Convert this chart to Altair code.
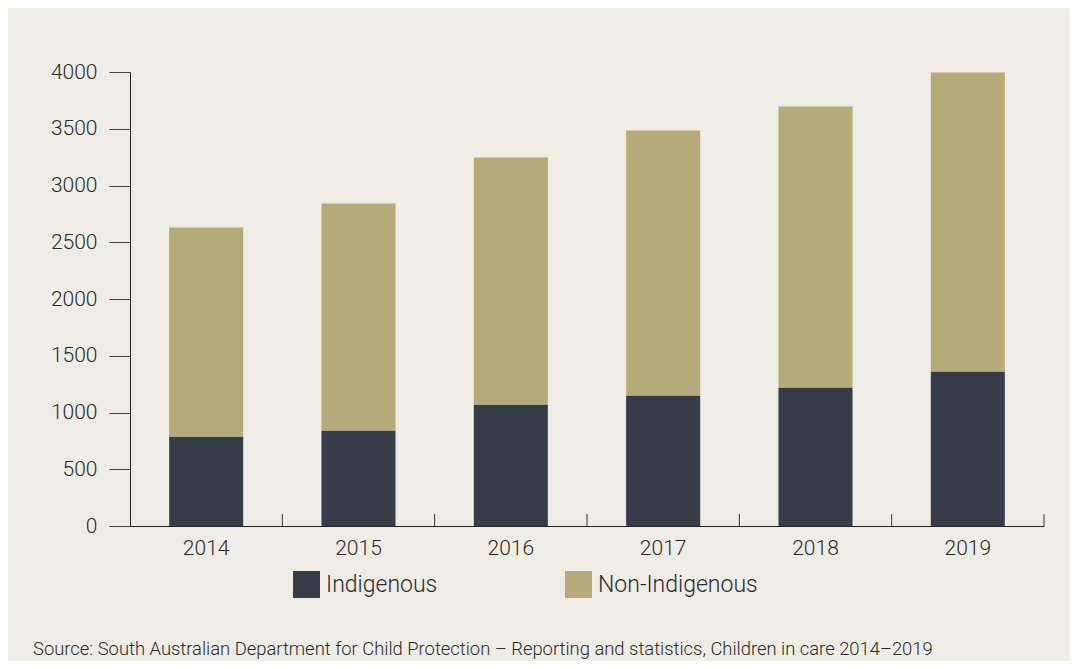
import altair as alt
import pandas as pd

years = ["2014", "2015", "2016", "2017", "2018", "2019"]
indigenous = [789, 841, 1070, 1150, 1220, 1361]
non_indigenous = [1841, 2000, 2177, 2335, 2476, 2635]
series = ["Indigenous", "Non-Indigenous"]
colors = ["#363d49", "#b6aa78"]
y_ticks = [0, 500, 1000, 1500, 2000, 2500, 3000, 3500, 4000]
source_text = ["Source: South Australian Department for Child Protection \u2013 Reporting and statistics, Children in care 2014\u20132019"]

rows = []
for i, yr in enumerate(years):
    rows.append({"year": yr, "group": series[0], "value": indigenous[i], "order": 0})
    rows.append({"year": yr, "group": series[1], "value": non_indigenous[i], "order": 1})
df = pd.DataFrame(rows)

W, H = 914, 454
FONT = "Roboto"
TXT = "#2b2b2b"
PI = 0.514
STEP = W / len(years)

xscale = alt.Scale(paddingInner=PI, paddingOuter=PI / 2)

bars = alt.Chart(df).mark_bar().encode(
    x=alt.X("year:N", scale=xscale, sort=years,
            axis=alt.Axis(title=None, labelAngle=0, ticks=False, domain=True,
                          domainColor="#222222", domainWidth=1,
                          labelFontSize=21, labelFont=FONT, labelFontWeight=300,
                          labelColor=TXT, labelPadding=11, orient="bottom")),
    y=alt.Y("value:Q", stack="zero", scale=alt.Scale(domain=[0, 4000], nice=False),
            axis=alt.Axis(title=None, values=y_ticks, format="d", tickSize=21,
                          tickColor="#444444", domainColor="#222222", labelPadding=12,
                          grid=False, labelFontSize=21, labelFont=FONT,
                          labelFontWeight=300, labelColor=TXT)),
    color=alt.Color("group:N", scale=alt.Scale(domain=series, range=colors),
                    legend=alt.Legend(title=None, orient="none", legendX=163, legendY=499,
                                      direction="horizontal", symbolType="square",
                                      symbolSize=729, symbolStrokeWidth=0, symbolOpacity=1,
                                      labelFontSize=23, labelFont=FONT, labelFontWeight=300,
                                      labelColor=TXT, labelOffset=6, columnPadding=127,
                                      padding=0, labelLimit=400)),
    order=alt.Order("order:Q", sort="ascending"),
)

# small upward ticks at the boundary after each year band
band_ticks = alt.Chart(pd.DataFrame({"year": years})).mark_rule(
    color="#333333", strokeWidth=1, xOffset=STEP * PI / 2
).encode(
    x=alt.X("year:N", scale=xscale, sort=years, bandPosition=1),
    y=alt.value(H - 12),
    y2=alt.value(H),
)

source = alt.Chart(pd.DataFrame({"t": source_text})).mark_text(
    align="left", baseline="alphabetic", fontSize=18.4, font=FONT, fontWeight=300, color=TXT
).encode(x=alt.value(33 - 130), y=alt.value(655 - 72), text="t:N")

chart = alt.layer(bars, band_ticks, source).properties(
    width=W, height=H,
    autosize=alt.AutoSizeParams(type="none"),
    padding={"left": 122, "top": 64, "right": 26, "bottom": 135},
    background="#efebe5",
).configure_view(stroke=None)

chart.save("out.html", embed_options={"renderer": "svg", "actions": False})
